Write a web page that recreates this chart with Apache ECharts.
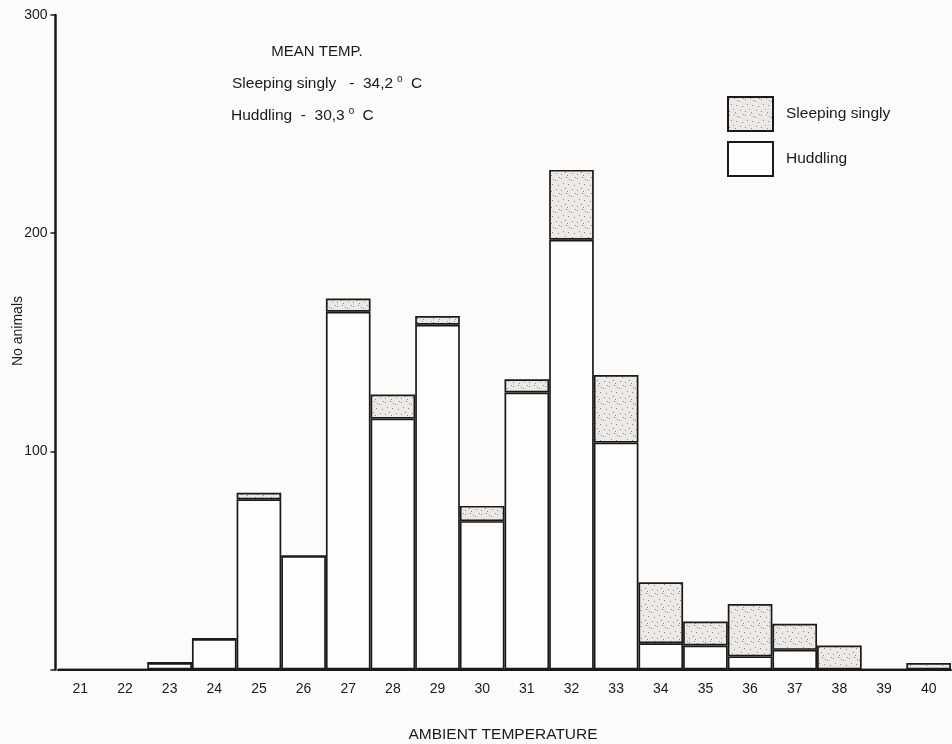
<!DOCTYPE html>
<html>
<head>
<meta charset="utf-8">
<script src="https://cdn.jsdelivr.net/npm/echarts@6/dist/echarts.min.js"></script>
<style>
  html, body { margin: 0; padding: 0; background: #fdfbf9; }
  #chart { width: 952px; height: 744px; }
</style>
</head>
<body>
<div id="chart"></div>
<script>
// Ambient temperature classes (°C)
const temperatures = ['21','22','23','24','25','26','27','28','29','30','31','32','33','34','35','36','37','38','39','40'];
// Number of animals huddling at each temperature
const huddling = [0, 0, 3, 14, 78, 52, 164, 115, 158, 68, 127, 197, 104, 12, 11, 6, 9, 0, 0, 0];
// Number of animals sleeping singly at each temperature (stacked on top)
const sleepingSingly = [0, 0, 0, 0, 3, 0, 6, 11, 4, 7, 6, 32, 31, 28, 11, 24, 12, 11, 0, 3];
const yTicks = [0, 100, 200, 300];

// Stippled fill for the "sleeping singly" blocks
function stipple() {
  const c = document.createElement('canvas');
  c.width = 16; c.height = 16;
  const g = c.getContext('2d');
  g.fillStyle = '#ebe8e5';
  g.fillRect(0, 0, 16, 16);
  g.fillStyle = '#8d8a88';
  const dots = [[1,2],[6,1],[11,4],[14,9],[3,7],[8,8],[12,13],[5,12],[1,14],[9,3],[15,1],[7,15]];
  dots.forEach(([x, y]) => g.fillRect(x, y, 1, 1));
  return c;
}
const dotted = { image: stipple(), repeat: 'repeat' };

const font = 'Liberation Sans, Arial, sans-serif';
const ink = '#1a1a1a';
const sup = { fontSize: 10, verticalAlign: 'top', padding: [0, 4, 9, 4], fill: ink, fontFamily: font };

const chart = echarts.init(document.getElementById('chart'));
chart.setOption({
  backgroundColor: '#fdfbf9',
  animation: false,
  textStyle: { fontFamily: font, color: ink },
  grid: { left: 58, right: 1, top: 15, bottom: 74.5, containLabel: false },
  legend: {
    orient: 'vertical',
    left: 722, top: 91,
    itemWidth: 45, itemHeight: 34, itemGap: 9,
    icon: 'rect',
    data: ['Sleeping singly', 'Huddling'],
    textStyle: { fontFamily: font, fontSize: 15.5, color: ink, padding: [0, 0, 0, 8] },
    selectedMode: false
  },
  xAxis: {
    type: 'category',
    data: temperatures,
    axisLine: { lineStyle: { color: ink, width: 2 } },
    axisTick: { show: false },
    axisLabel: { fontSize: 14, color: ink, margin: 13, fontFamily: font }
  },
  yAxis: {
    type: 'value',
    min: 0, max: 300, interval: 100,
    offset: 2.5,
    axisLine: { show: true, lineStyle: { color: ink, width: 2.5 } },
    axisTick: { show: true, length: 5, lineStyle: { color: ink, width: 1.5 } },
    axisLabel: {
      fontSize: 14, color: ink, margin: 8, fontFamily: font,
      formatter: v => (yTicks.includes(v) && v !== 0) ? String(v) : ''
    },
    splitLine: { show: false }
  },
  series: [
    {
      name: 'Huddling',
      type: 'bar',
      stack: 'animals',
      data: huddling,
      barCategoryGap: 0,
      itemStyle: { color: '#fefdfc', borderColor: ink, borderWidth: 1.7 }
    },
    {
      name: 'Sleeping singly',
      type: 'bar',
      stack: 'animals',
      data: sleepingSingly,
      barCategoryGap: 0,
      itemStyle: { color: dotted, borderColor: ink, borderWidth: 1.7 }
    }
  ],
  graphic: [
    {
      type: 'text',
      style: {
        text: 'MEAN TEMP.', x: 317, y: 52, align: 'center', verticalAlign: 'middle',
        font: '15px ' + font, fill: ink
      }
    },
    {
      type: 'text',
      style: {
        x: 232, y: 84, verticalAlign: 'middle',
        text: 'Sleeping singly   -  34,2{sup|o} C',
        font: '15.5px ' + font, fill: ink,
        rich: { sup }
      }
    },
    {
      type: 'text',
      style: {
        x: 231, y: 116, verticalAlign: 'middle',
        text: 'Huddling  -  30,3{sup|o} C',
        font: '15.5px ' + font, fill: ink,
        rich: { sup }
      }
    },
    {
      type: 'text',
      x: 18, y: 331, rotation: Math.PI / 2,
      style: {
        x: 0, y: 0, align: 'center', verticalAlign: 'middle',
        text: 'No animals',
        font: '14px ' + font, fill: ink
      }
    },
    {
      type: 'text',
      style: {
        x: 503, y: 735, align: 'center', verticalAlign: 'middle',
        text: 'AMBIENT TEMPERATURE',
        font: '15.5px ' + font, fill: ink
      }
    }
  ]
});
</script>
</body>
</html>
